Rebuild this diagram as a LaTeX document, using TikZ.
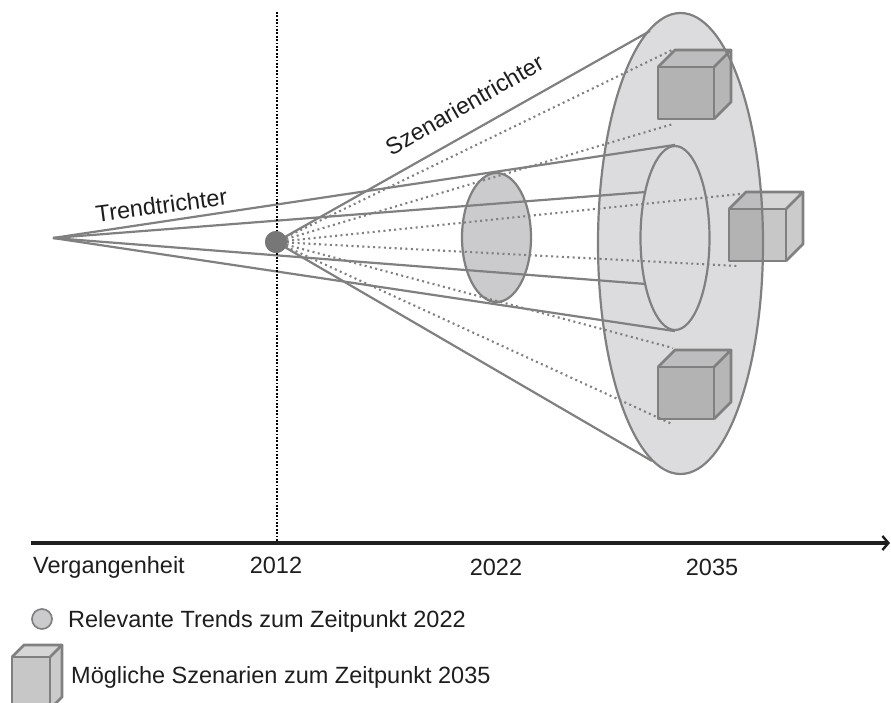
\documentclass[tikz,border=0pt]{standalone}
\usepackage{fontspec}
\setmainfont{Liberation Sans}
\usepackage{tikz}
\usetikzlibrary{shapes,arrows.meta,positioning,calc}
\tikzset{>=latex}

\definecolor{linegray}{HTML}{808080}
\definecolor{farfill}{HTML}{DCDCDE}
\definecolor{nearfill}{HTML}{CBCBCD}
\definecolor{nowgray}{HTML}{777777}
\definecolor{cubegray}{HTML}{7E7E7E}
\definecolor{textblack}{HTML}{1E1E1E}

\tikzset{
  funnel/.style={draw=linegray,line width=2.2pt},
  scenline/.style={draw=linegray,line width=2.1pt,dash pattern=on 2pt off 3.4pt},
  label/.style={font=\fontsize{23.5}{28}\selectfont,text=textblack,inner sep=0pt},
  cubeline/.style={draw=linegray,line width=2.8pt,line join=round},
}

% scenario cube: front face top-left x, y, width, height, depth
\newcommand{\scenariocube}[5]{%
  \fill[cubegray,fill opacity=0.43] (#1,#2) rectangle ++(#3,#4);
  \fill[cubegray,fill opacity=0.32] (#1,#2) -- ++(#5,-#5) -- ++(#3,0) -- ++(-#5,#5) -- cycle;
  \fill[cubegray,fill opacity=0.40] ({#1+#3},#2) -- ++(#5,-#5) -- ++(0,#4) -- ++(-#5,#5) -- cycle;
  \draw[cubeline] (#1,#2) rectangle ++(#3,#4);
  \draw[cubeline] (#1,#2) -- ++(#5,-#5) -- ++(#3,0) -- ++(-#5,#5);
  \draw[cubeline] ({#1+#3+#5},{#2-#5}) -- ++(0,#4) -- ++(-#5,#5);
}

\begin{document}
\begin{tikzpicture}[x=1pt,y=-1pt]
    \useasboundingbox (0,0) rectangle (891,702);

    % ellipses for 2035 and 2022
    \node[ellipse,draw=linegray,line width=2.2pt,fill=farfill,minimum width=165pt,minimum height=461pt,inner sep=0pt] (far) at (680.5,243.5) {};
    \node[ellipse,draw=linegray,line width=2.2pt,minimum width=69pt,minimum height=184pt,inner sep=0pt] (inner) at (675,238) {};
    \node[ellipse,draw=linegray,line width=2.2pt,fill=nearfill,minimum width=69pt,minimum height=129pt,inner sep=0pt] (near) at (496.5,237.5) {};

    % Trendtrichter
    \coordinate (apex) at (53,238);
    \coordinate (t1) at (646,192);
    \coordinate (t2) at (646,284);
    \draw[funnel] (apex) -- (inner.north);
    \draw[funnel] (apex) -- (t1);
    \draw[funnel] (apex) -- (t2);
    \draw[funnel] (apex) -- (inner.south);

    % Szenariotrichter
    \node[circle,fill=nowgray,minimum size=22pt,inner sep=0pt] (now) at (276,242) {};
    \coordinate (s1) at (650,31);
    \coordinate (s2) at (652,461);
    \draw[funnel] (now.center) -- (s1);
    \draw[funnel] (now.center) -- (s2);
    \foreach \p in {(672,50),(673,124),(740,194),(738,266),(673,348),(672,424)}
      \draw[scenline] (now.center) -- \p;

    \scenariocube{658}{67}{56}{52}{17}
    \scenariocube{729}{209}{57}{52}{17}
    \scenariocube{658}{367}{56}{52}{17}

    % labels on the funnels
    \node[label,anchor=base,rotate=7.5] (trend) at (162.5,213.5) {Trendtrichter};
    \node[label,anchor=base,rotate=29.8] (szen) at (468.5,112) {Szenarientrichter};

    % time axis
    \draw[black,line width=1.7pt,dash pattern=on 1.7pt off 1.7pt] (277,12) -- (277,541);
    \node[circle,fill=nowgray,minimum size=22pt,inner sep=0pt] at (now) {};
    \draw[textblack,line width=3.2pt,-{Straight Barb[length=6pt,width=14pt,line width=2.4pt]}] (31,543) -- (890,543);
    \node[label,anchor=base west] (past) at (33,573) {Vergangenheit};
    \node[label,anchor=base] (y2012) at (276,573) {2012};
    \node[label,anchor=base] (y2022) at (496,575) {2022};
    \node[label,anchor=base] (y2035) at (712,575) {2035};

    % legend
    \node[circle,draw=linegray,line width=1.7pt,fill=nearfill,minimum size=20pt,inner sep=0pt] (legtrend) at (42,619) {};
    \node[label,anchor=base west] (legtrendtxt) at (68,627) {Relevante Trends zum Zeitpunkt 2022};
    \scenariocube{12}{657}{38}{52}{12}
    \node[label,anchor=base west] (legcubetxt) at (71,683) {Mögliche Szenarien zum Zeitpunkt 2035};
\end{tikzpicture}
\end{document}
